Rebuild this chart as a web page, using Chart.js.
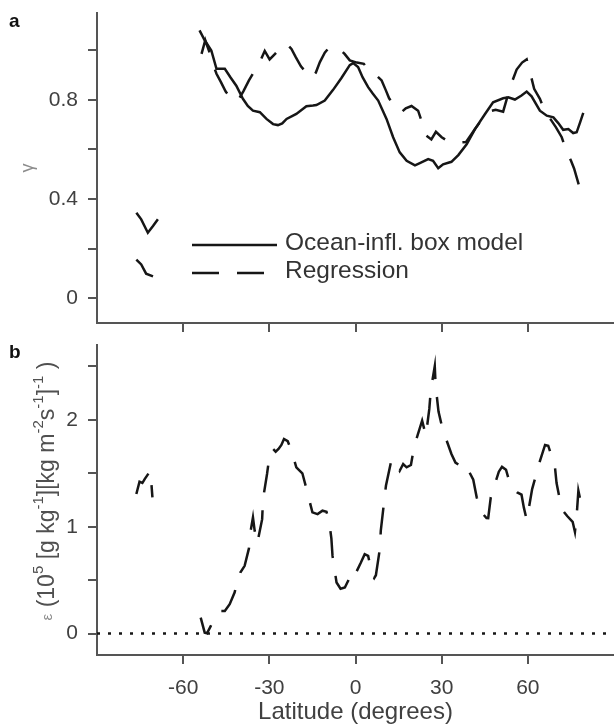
<!DOCTYPE html>
<html>
<head>
<meta charset="utf-8">
<script src="https://cdn.jsdelivr.net/npm/chart.js@4.4.1/dist/chart.umd.min.js"></script>
<style>
body { margin: 0; background: #fff; }
#wrap { position: relative; width: 614px; height: 726px; }
canvas { position: absolute; left: 0; }
</style>
</head>
<body>
<div id="wrap">
<canvas id="gammaChart" width="614" height="334" style="top:0px"></canvas>
<canvas id="epsChart" width="614" height="392" style="top:334px"></canvas>
</div>
<script>
// panel a: gamma, box model (solid)
const modelLat = [-76.3, -74.6, -72.3, -70.5, -68.8, -62,
    -54.3, -52.5, -50.2, -48.4, -45.5, -43.5, -41.5, -39.2, -37.5, -35.7, -33.3, -31.0, -28.7, -27.0,
    -25.5, -24.0, -20.6, -17.1, -14.8, -13.6, -10.7, -7.8, -4.9, -2.0, -0.8, 0.9, 2.5, 4.4, 6.0, 7.9,
    10.8, 13.1, 15.4, 17.8, 20.7, 22.4, 25.3, 27.0, 28.8, 30.5, 33.4, 35.8, 38.7, 41.6, 45.1, 47.9,
    51.4, 53.2, 55.5, 57.8, 59.6, 61.3, 64.2, 66.6, 68.9, 70.6, 72.3, 74.1, 75.8, 77.0, 78.2, 79.3];
const modelGamma = [0.345, 0.318, 0.264, 0.291, 0.318, null,
    1.080, 1.040, 0.999, 0.925, 0.925, 0.890, 0.857, 0.804, 0.775, 0.756, 0.750, 0.723, 0.702, 0.698,
    0.705, 0.723, 0.743, 0.774, 0.777, 0.779, 0.797, 0.840, 0.888, 0.940, 0.948, 0.932, 0.890, 0.851, 0.825, 0.797,
    0.723, 0.649, 0.588, 0.554, 0.536, 0.545, 0.561, 0.554, 0.524, 0.540, 0.550, 0.577, 0.621, 0.682, 0.743, 0.790,
    0.806, 0.810, 0.801, 0.817, 0.833, 0.814, 0.756, 0.736, 0.729, 0.706, 0.679, 0.682, 0.666, 0.669, 0.709, 0.747];

// panel a: gamma, regression (dashed)
const regLat = [-76.3, -74.6, -72.9, -70.5, -62,
    -53.6, -52.3, -50.8, -49.5, -48.4, -46.8, -45.2, -43.0, -41.1, -39.0, -37.1, -35.5, -33.9, -31.6, -29.9,
    -28.0, -26.4, -24.0, -22.3, -20.8, -19.0, -17.3, -15.3, -13.8, -12.4, -10.7, -9.0, -7.2, -5.5, -3.8, -2.0,
    0.5, 2.9, 5.0, 7.3, 9.1, 10.5, 11.7, 14.3, 16.0, 17.5, 19.5, 21.8, 24.7, 26.4, 28.0, 30.0, 32.3, 35.8,
    38.5, 41.6, 44.0, 46.2, 48.8, 51.4, 54.0, 56.1, 58.0, 59.6, 60.7, 62.2, 64.2, 66.3, 68.0, 69.8, 71.8,
    73.5, 75.0, 76.1, 78.7];
const regGamma = [0.156, 0.136, 0.099, 0.088, null,
    0.985, 1.040, 0.990, 0.940, 0.905, 0.870, 0.833, 0.800, 0.793, 0.835, 0.878, 0.910, 0.938, 0.997, 0.963,
    0.985, 1.006, 1.026, 1.005, 0.972, 0.935, 0.912, 0.887, 0.910, 0.952, 0.990, 1.013, 1.010, 1.005, 0.985, 0.959,
    0.950, 0.945, 0.912, 0.898, 0.878, 0.840, 0.806, 0.763, 0.750, 0.766, 0.775, 0.756, 0.655, 0.640, 0.671, 0.649, 0.632, 0.628,
    0.630, 0.682, 0.720, 0.752, 0.760, 0.752, 0.857, 0.922, 0.950, 0.963, 0.914, 0.844, 0.804, 0.743, 0.720, 0.689, 0.649,
    0.590, 0.555, 0.523, 0.419];

// panel b: epsilon (dashed)
const epsLat = [-76.3, -75.2, -74.2, -73.4, -71.4, -70.7, -62,
    -53.9, -52.5, -51.7, -50.5, -48.7, -46.9, -45.5, -43.8, -42.1, -41.2, -40.1, -38.6, -37.1, -36.5, -35.7,
    -35.1, -34.2, -32.5, -32.2, -30.8, -29.9, -28.7, -27.8, -26.8, -25.8, -24.9, -23.6, -22.3, -20.6, -18.5,
    -16.9, -15.0, -13.2, -11.5, -10.1, -9.2, -8.4, -8.0, -6.6, -5.2, -3.7, -2.0, -0.8, 0.3, 1.8, 3.2, 4.4,
    5.9, 6.5, 7.1, 8.5, 8.8, 9.9, 10.6, 12.5, 13.8, 15.4, 16.6, 17.8, 19.3, 20.4, 23.2, 24.5, 25.7, 26.2,
    27.6, 27.9, 28.9, 30.3, 33.4, 34.8, 36.1, 38.1, 39.2, 41.0, 42.2, 43.9, 45.6, 46.2, 47.1, 49.9, 51.0,
    52.4, 54.0, 56.3, 57.8, 58.6, 59.6, 60.5, 61.5, 64.0, 66.0, 67.1, 69.4, 70.0, 71.8, 73.7, 75.6, 76.4,
    77.0, 77.6, 79.1];
const epsVal = [1.306, 1.421, 1.409, 1.446, 1.524, 1.275, null,
    0.150, 0.009, 0.003, 0.066, 0.160, 0.212, 0.212, 0.275, 0.384, 0.480, 0.572, 0.634, 0.797, 0.962, 1.087,
    0.962, 0.846, 1.071, 1.259, 1.493, 1.671, 1.727, 1.702, 1.727, 1.765, 1.821, 1.800, 1.711, 1.556, 1.500,
    1.337, 1.134, 1.118, 1.150, 1.140, 1.055, 0.890, 0.727, 0.478, 0.420, 0.431, 0.525, 0.609, 0.577, 0.660, 0.743, 0.727,
    0.546, 0.520, 0.546, 0.797, 0.962, 1.221, 1.383, 1.624, 1.620, 1.524, 1.587, 1.556, 1.577, 1.749, 1.993, 1.852, 2.102, 2.274,
    2.502, 2.320, 2.077, 1.915, 1.680, 1.600, 1.577, 1.596, 1.533, 1.440, 1.275, 1.134, 1.081, 1.080, 1.275, 1.515, 1.560,
    1.533, 1.383, 1.321, 1.300, 1.181, 1.065, 1.196, 1.352, 1.596, 1.765, 1.758, 1.571, 1.409, 1.165, 1.100, 1.046, 0.952,
    1.102, 1.337, 1.149];

const zeroLat = [-90, 90];
const zeroVal = [0, 0];

const latTicks = [-60, -30, 0, 30, 60];
const latTickLabels = ['-60', '-30', '0', '30', '60'];
const gammaTicks = [0, 0.2, 0.4, 0.6, 0.8, 1.0];
const gammaTickLabels = ['0', '', '0.4', '', '0.8', ''];
const epsTicks = [0, 0.5, 1, 1.5, 2, 2.5];
const epsTickLabels = ['0', '', '1', '', '2', ''];

const axisGrey = '#555555';
const textGrey = '#404040';
const lineBlack = '#161616';
const fontFamily = "'Liberation Sans', Arial, Helvetica, sans-serif";

function toPoints(xs, ys) {
    return xs.map(function(x, i) { return { x: x, y: ys[i] }; });
}

function setTicks(values) {
    return function(scale) {
        scale.ticks = values.map(function(v) { return { value: v }; });
    };
}

function xScale(labels, height) {
    return {
        type: 'linear',
        min: -90,
        max: 90,
        afterBuildTicks: setTicks(latTicks),
        afterFit: function(scale) {
            scale.height = height;
            scale.paddingLeft = 0;
            scale.paddingRight = 0;
        },
        border: { color: axisGrey, width: 2 },
        grid: { drawOnChartArea: false, drawTicks: true, tickLength: 9, color: axisGrey, lineWidth: 2 },
        ticks: {
            autoSkip: false,
            maxRotation: 0,
            padding: 12,
            color: textGrey,
            font: { family: fontFamily, size: 21 },
            callback: function(v, i) { return labels ? labels[i] : ''; }
        }
    };
}

function yScale(min, max, ticks, labels) {
    return {
        type: 'linear',
        min: min,
        max: max,
        afterBuildTicks: setTicks(ticks),
        afterFit: function(scale) {
            scale.width = 97;
            scale.paddingTop = 0;
            scale.paddingBottom = 0;
        },
        border: { color: axisGrey, width: 2 },
        grid: { drawOnChartArea: false, drawTicks: true, tickLength: 9, color: axisGrey, lineWidth: 2 },
        ticks: {
            padding: 10,
            color: textGrey,
            font: { family: fontFamily, size: 21 },
            callback: function(v, i) { return labels[i]; }
        }
    };
}

// letters, y titles (with superscripts) and the in-plot legend
const annotations = {
    id: 'annotations',
    afterDraw: function(chart, args, opts) {
        const ctx = chart.ctx;
        ctx.save();
        ctx.fillStyle = '#111';
        ctx.font = 'bold 19px ' + fontFamily;
        ctx.textBaseline = 'alphabetic';
        ctx.fillText(opts.letter, 9, opts.letterY);

        // rotated axis title made of runs
        const runs = opts.yTitle;
        let total = 0;
        runs.forEach(function(r) {
            ctx.font = r.size + 'px ' + fontFamily;
            r.w = ctx.measureText(r.t).width;
            total += r.w;
        });
        ctx.translate(opts.yTitleX, opts.yTitleY);
        ctx.rotate(-Math.PI / 2);
        ctx.textBaseline = 'middle';
        let x = -total / 2;
        runs.forEach(function(r) {
            ctx.font = r.size + 'px ' + fontFamily;
            ctx.fillStyle = r.color || '#505050';
            ctx.fillText(r.t, x, r.dy || 0);
            x += r.w;
        });
        ctx.restore();

        if (opts.legend) {
            ctx.save();
            const lg = opts.legend;
            chart.data.datasets.forEach(function(ds, i) {
                if (!ds.label) return;
                const y = lg.y + i * lg.step;
                ctx.strokeStyle = ds.borderColor;
                ctx.lineWidth = ds.borderWidth;
                ctx.setLineDash(ds.borderDash || []);
                ctx.beginPath();
                ctx.moveTo(lg.x, y);
                ctx.lineTo(lg.x + lg.len, y);
                ctx.stroke();
                ctx.setLineDash([]);
                ctx.fillStyle = '#333';
                ctx.font = '24.5px ' + fontFamily;
                ctx.textBaseline = 'middle';
                ctx.fillText(ds.label, lg.x + lg.len + 8, y - 2);
            });
            ctx.restore();
        }
    }
};

const gammaConfig = {
    type: 'line',
    data: {
        datasets: [{
            label: 'Ocean-infl. box model',
            data: toPoints(modelLat, modelGamma),
            borderColor: lineBlack,
            borderWidth: 2.5,
            pointRadius: 0,
            spanGaps: false
        }, {
            label: 'Regression',
            data: toPoints(regLat, regGamma),
            borderColor: lineBlack,
            borderWidth: 2.5,
            borderDash: [27, 18],
            pointRadius: 0,
            spanGaps: false
        }]
    },
    options: {
        responsive: false,
        animation: false,
        layout: { autoPadding: false, padding: { top: 13, left: 0, right: 0, bottom: 0 } },
        scales: {
            x: xScale(null, 11),
            y: yScale(-0.1, 1.15, gammaTicks, gammaTickLabels)
        },
        plugins: {
            legend: { display: false },
            tooltip: { enabled: false },
            annotations: {
                letter: 'a',
                letterY: 27,
                yTitle: [{ t: 'γ', size: 18, color: '#8c8c8c' }],
                yTitleX: 28,
                yTitleY: 168,
                legend: { x: 192, y: 245, step: 28, len: 85 }
            }
        }
    },
    plugins: [annotations]
};

const epsConfig = {
    type: 'line',
    data: {
        datasets: [{
            data: toPoints(epsLat, epsVal),
            borderColor: lineBlack,
            borderWidth: 2.5,
            borderDash: [27, 18],
            pointRadius: 0,
            spanGaps: false
        }, {
            data: toPoints(zeroLat, zeroVal),
            borderColor: lineBlack,
            borderWidth: 2.5,
            borderDash: [3, 8],
            pointRadius: 0
        }]
    },
    options: {
        responsive: false,
        animation: false,
        layout: { autoPadding: false, padding: { top: 11, left: 0, right: 0, bottom: 0 } },
        scales: {
            x: Object.assign(xScale(latTickLabels, 71), {
                title: {
                    display: true,
                    text: 'Latitude (degrees)',
                    color: textGrey,
                    font: { family: fontFamily, size: 24, lineHeight: 1.1 },
                    padding: 0
                }
            }),
            y: yScale(-0.2, 2.7, epsTicks, epsTickLabels)
        },
        plugins: {
            legend: { display: false },
            tooltip: { enabled: false },
            annotations: {
                letter: 'b',
                letterY: 24,
                yTitle: [
                    { t: 'ε', size: 15, color: '#8c8c8c' },
                    { t: ' (10', size: 23 },
                    { t: '5', size: 15, dy: -9 },
                    { t: ' [g kg', size: 23 },
                    { t: '-1', size: 15, dy: -9 },
                    { t: '][kg m', size: 23 },
                    { t: '-2', size: 15, dy: -9 },
                    { t: 's', size: 23 },
                    { t: '-1', size: 15, dy: -9 },
                    { t: ']', size: 23 },
                    { t: '-1', size: 15, dy: -9 },
                    { t: ' )', size: 23 }
                ],
                yTitleX: 48,
                yTitleY: 157
            }
        }
    },
    plugins: [annotations]
};

new Chart(document.getElementById('gammaChart'), gammaConfig);
new Chart(document.getElementById('epsChart'), epsConfig);
</script>
</body>
</html>
